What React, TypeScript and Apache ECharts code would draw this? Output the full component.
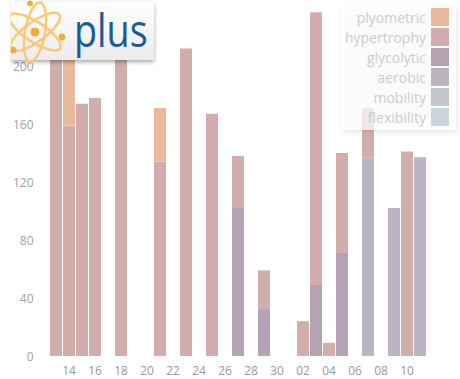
import React, { useEffect, useRef } from "react";
import * as echarts from "echarts";

const days = ["13","14","15","16","17","18","19","20","21","22","23","24","25","26","27","28","29","30","01","02","03","04","05","06","07","08","09","10","11"];
const plyometric = [null,56,null,null,null,null,null,null,37,null,null,null,null,null,null,null,null,null,null,null,null,null,null,null,null,null,null,null,null];
const hypertrophy = [225,159,174,178,null,222,null,null,134,null,212,null,167,null,36,null,26,null,null,24,188,9,69,null,34,null,null,141,null];
const glycolytic = [null,null,null,null,null,null,null,null,null,null,null,null,null,null,102,null,33,null,null,null,49,null,71,null,null,null,null,null,null];
const aerobic = [null,null,null,null,null,null,null,null,null,null,null,null,null,null,null,null,null,null,null,null,null,null,null,null,137,null,102,null,137];
const mobility = days.map(() => null);
const flexibility = days.map(() => null);

const seriesNames = ["plyometric","hypertrophy","glycolytic","aerobic","mobility","flexibility"];
const seriesColors = ["#e8b99b","#d1aeab","#b4a2b5","#bcb4c4","#c5c4d2","#cad5e0"];
const seriesData = [plyometric, hypertrophy, glycolytic, aerobic, mobility, flexibility];

export default function App() {
  const ref = useRef<HTMLDivElement>(null);
  useEffect(() => {
    document.body.style.margin = "0";
    if (!ref.current) return;
    const chart = echarts.init(ref.current, undefined, { renderer: "svg" });
    const font = "Open Sans";
    const order = [5, 4, 3, 2, 1, 0];
    const series = order.map((i) => ({
      name: seriesNames[i],
      type: "bar",
      stack: "total",
      barWidth: 12,
      itemStyle: { color: seriesColors[i] },
      data: seriesData[i],
    }));
    const orbit = "#fbc879";
    const dot = "#f8a73a";
    const cx = 24, cy = 30;
    chart.setOption({
      animation: false,
      textStyle: { fontFamily: font },
      grid: { left: 49.5, right: 33.5, top: 8, bottom: 23 },
      legend: {
        data: seriesNames,
        orient: "vertical",
        right: 4,
        top: 6,
        align: "right",
        itemWidth: 18,
        itemHeight: 18,
        itemGap: 2,
        padding: [2, 7, 4, 3],
        backgroundColor: "rgba(255,255,255,0.7)",
        shadowBlur: 6,
        shadowColor: "rgba(0,0,0,0.15)",
        shadowOffsetX: 1,
        shadowOffsetY: 2,
        textStyle: { color: "#cccccc", fontSize: 14, fontFamily: font },
        icon: "rect",
      },
      xAxis: {
        type: "category",
        data: days,
        axisLine: { show: false },
        axisTick: { show: false },
        axisLabel: {
          color: "#999999",
          fontSize: 12,
          fontFamily: font,
          interval: (index: number) => index % 2 === 1,
        },
      },
      yAxis: {
        type: "value",
        min: 0,
        max: 240,
        interval: 40,
        axisLine: { show: false },
        axisTick: { show: false },
        splitLine: { show: false },
        axisLabel: { color: "#a0a0a0", fontSize: 12, fontFamily: font, margin: 16 },
      },
      graphic: [
        {
          type: "group",
          x: 11,
          y: 2,
          z: 100,
          children: [
            {
              type: "rect",
              z: 100,
              shape: { x: 0, y: 0, width: 143, height: 58 },
              style: {
                fill: {
                  type: "linear", x: 0, y: 0, x2: 0, y2: 1,
                  colorStops: [
                    { offset: 0, color: "#ffffff" },
                    { offset: 1, color: "#ececec" },
                  ],
                },
                shadowBlur: 4,
                shadowColor: "rgba(0,0,0,0.35)",
                shadowOffsetY: 2,
              },
            },
            { type: "ellipse", z: 101, x: cx, y: cy, shape: { cx: 0, cy: 0, rx: 30, ry: 10 }, rotation: -0.58, style: { fill: "none", stroke: orbit, lineWidth: 2.5 } },
            { type: "ellipse", z: 101, x: cx, y: cy, shape: { cx: 0, cy: 0, rx: 30, ry: 10 }, rotation: 0.62, style: { fill: "none", stroke: orbit, lineWidth: 2.5 } },
            { type: "ellipse", z: 101, x: cx, y: cy, shape: { cx: 0, cy: 0, rx: 30, ry: 10 }, rotation: 1.4, style: { fill: "none", stroke: orbit, lineWidth: 2.5 } },
            { type: "circle", z: 102, shape: { cx: cx, cy: cy, r: 4.5 }, style: { fill: dot } },
            { type: "circle", z: 102, shape: { cx: 19, cy: 1.5, r: 3 }, style: { fill: dot } },
            { type: "circle", z: 102, shape: { cx: 51, cy: 35, r: 3.5 }, style: { fill: dot } },
            { type: "circle", z: 102, shape: { cx: 2, cy: 48, r: 3.5 }, style: { fill: dot } },
            { type: "rect", z: 103, shape: { x: -11, y: -2, width: 10.5, height: 66 }, style: { fill: "#ffffff" } },
            {
              type: "text",
              z: 103,
              x: 63,
              y: 27,
              scaleX: 0.82,
              style: {
                text: "plus",
                fontSize: 46,
                fontFamily: font,
                verticalAlign: "middle",
                fill: "#1b5a98",
              },
            },
          ],
        },
      ],
      series,
    });
    return () => chart.dispose();
  }, []);
  return <div ref={ref} style={{ width: 460, height: 379 }} />;
}
